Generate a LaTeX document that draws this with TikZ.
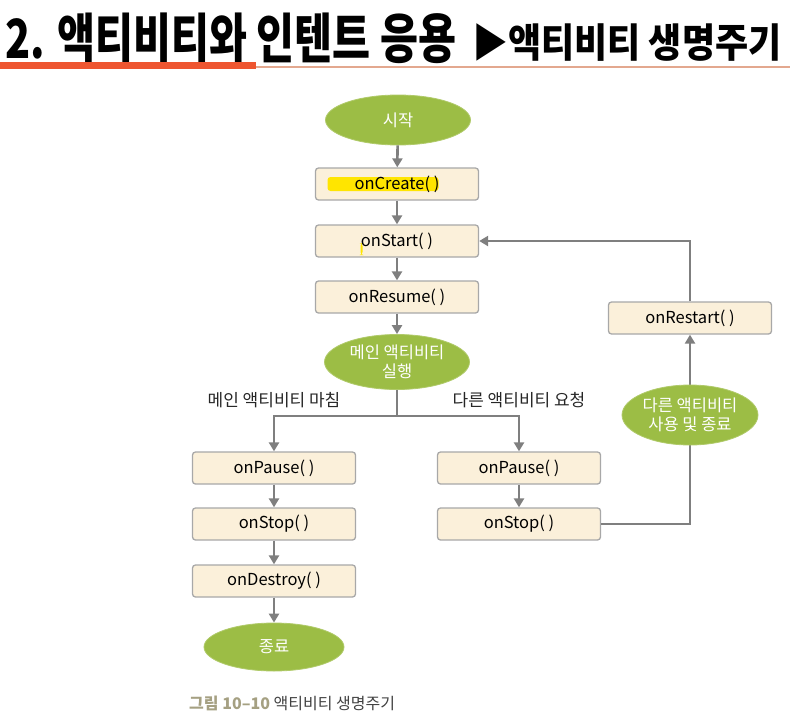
\documentclass[tikz,border=0pt]{standalone}
\usepackage{fontspec}
\setmainfont{Noto Sans CJK KR}
\usetikzlibrary{arrows.meta,shapes.geometric}

\definecolor{leaf}{HTML}{9CBD45}
\definecolor{cream}{HTML}{FBF0DA}
\definecolor{edgegrey}{HTML}{A8A8A8}
\definecolor{flowgrey}{HTML}{7F7F7F}
\definecolor{titlered}{HTML}{EE5530}
\definecolor{titlepale}{HTML}{E3A88F}
\definecolor{marker}{HTML}{FFE500}
\definecolor{figgrey}{HTML}{A5A082}

\tikzset{
    stage/.style={ellipse, fill=leaf, draw=leaf!80!white, line width=0.8pt,
        text=white, minimum width=145pt, minimum height=50pt, inner sep=0pt,
        align=center, font=\fontsize{16.5}{18.5}\selectfont},
    call/.style={rectangle, rounded corners=3pt, fill=cream, draw=edgegrey,
        line width=1.3pt, minimum width=163pt, minimum height=32pt,
        font=\fontsize{16.5}{18}\selectfont},
    flow/.style={draw=flowgrey, line width=2.6pt, -{Triangle[length=9pt,width=10pt]}},
    plain/.style={draw=flowgrey, line width=2.6pt},
    branch/.style={font=\fontsize{17}{19}\selectfont, text=black!85},
}

\begin{document}
\begin{tikzpicture}[x=1pt, y=-1pt]

    \useasboundingbox (0, 0) rectangle (790, 718);

    % title
    \node[anchor=base west, inner sep=0pt] (heading) at (5, 58)
        {\scalebox{0.765}[1]{\fontsize{54}{54}\bfseries 2. 액티비티와 인텐트 응용}};
    \node[anchor=base west, inner sep=0pt] (subheading) at (472, 57)
        {\scalebox{0.9}[1]{\fontsize{40}{40}\bfseries ▶액티비티 생명주기}};
    \fill[titlepale] (0, 65.5) rectangle (790, 67.5);
    \fill[titlered] (0, 62) rectangle (256, 69);

    % main column
    \node[stage] (begin) at (398, 120) {시작};
    \node[call, path picture={
            \fill[marker] ([xshift=12pt, yshift=7pt]path picture bounding box.west)
                rectangle ([xshift=123pt, yshift=-7pt]path picture bounding box.west);
        }] (create) at (397, 184) {onCreate( )};
    \node[call, path picture={
            \fill[marker] ([xshift=45pt, yshift=-2pt]path picture bounding box.west)
                rectangle ([xshift=47pt, yshift=-14pt]path picture bounding box.west);
        }] (startup) at (397, 241) {onStart( )};
    \node[call] (resume) at (397, 297) {onResume( )};
    \node[stage, minimum height=55pt] (run) at (397, 362) {메인 액티비티\\실행};

    \draw[flow] (begin) -- (create);
    \draw[flow] (create) -- (startup);
    \draw[flow] (startup) -- (resume);
    \draw[flow] (resume) -- (run);

    % fork
    \coordinate (fork) at (397, 416);
    \node[branch] (finishing) at (274, 400) {메인 액티비티 마침};
    \node[branch] (calling) at (519, 400) {다른 액티비티 요청};

    % left column
    \node[call] (pauseL) at (274, 468) {onPause( )};
    \node[call] (stopL) at (274, 524) {onStop( )};
    \node[call] (destroy) at (274, 581) {onDestroy( )};
    \node[stage, minimum width=140pt, minimum height=48pt] (finish) at (274, 647) {종료};

    % right column
    \node[call] (pauseR) at (519, 468) {onPause( )};
    \node[call] (stopR) at (519, 524) {onStop( )};
    \node[call] (restart) at (690, 318) {onRestart( )};

    \draw[plain] (run) -- (fork);
    \draw[flow] (fork) -| (pauseL);
    \draw[flow] (fork) -| (pauseR);
    \draw[flow] (pauseL) -- (stopL);
    \draw[flow] (stopL) -- (destroy);
    \draw[flow] (destroy) -- (finish);
    \draw[flow] (pauseR) -- (stopR);
    \draw[flow] (stopR) -| (restart);
    \draw[flow] (restart) |- (startup);

    \node[stage, minimum width=136pt, minimum height=60pt] (other) at (690, 415)
        {다른 액티비티\\사용 및 종료};

    % caption
    \node[anchor=base west, inner sep=0pt, font=\fontsize{16}{18}\selectfont] (caption) at (189, 709)
        {\textcolor{figgrey}{\bfseries 그림 10–10} \textcolor{black!75}{액티비티 생명주기}};

\end{tikzpicture}
\end{document}
